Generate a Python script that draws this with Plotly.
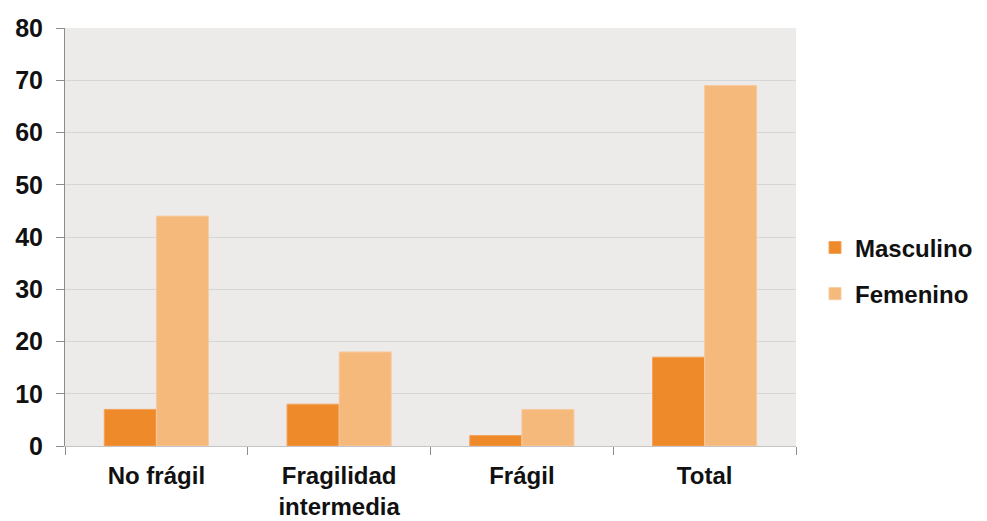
import plotly.graph_objects as go

# Frailty categories and counts by sex
categorias = ["No frágil", "Fragilidad<br>intermedia", "Frágil", "Total"]
masculino = [7, 8, 2, 17]
femenino = [44, 18, 7, 69]

ticks_y = list(range(0, 81, 10))

color_masc = "#ef8a2a"
color_fem = "#f5b97c"
fuente = "Liberation Sans, Arial, sans-serif"
texto = "#111111"

fig = go.Figure()
fig.add_trace(go.Bar(
    name="Masculino", x=categorias, y=masculino,
    marker=dict(color=color_masc, line=dict(color="#f3a25a", width=1)),
    legendgroup="m",
))
fig.add_trace(go.Bar(
    name="Femenino", x=categorias, y=femenino,
    marker=dict(color=color_fem, line=dict(color="#f8cba0", width=1)),
    legendgroup="f",
))

fig.update_layout(
    width=987, height=521,
    margin=dict(l=65, r=191, t=28, b=75, autoexpand=False),
    paper_bgcolor="white",
    plot_bgcolor="#ecebea",
    barmode="group",
    bargap=0.43,
    bargroupgap=0,
    font=dict(family=fuente, color=texto, weight="bold"),
    showlegend=True,
    legend=dict(
        x=1.026, y=0.419, xanchor="left", yanchor="middle",
        font=dict(family=fuente, size=24, color=texto, weight="bold"),
        tracegroupgap=12,
        traceorder="grouped",
        bgcolor="rgba(0,0,0,0)",
    ),
    xaxis=dict(
        type="category",
        tickson="boundaries",
        ticks="outside", ticklen=8, tickcolor="#8c8c8c", tickwidth=1,
        showline=True, linecolor="#c4c4c4", linewidth=1,
        showgrid=False,
        automargin=False,
        ticklabelstandoff=8,
        tickfont=dict(family=fuente, size=24, color=texto, weight="bold"),
    ),
    yaxis=dict(
        range=[0, 80],
        tickvals=ticks_y,
        ticks="outside", ticklen=8, tickcolor="#8c8c8c", tickwidth=1,
        showline=True, linecolor="#8c8c8c", linewidth=1,
        gridcolor="#d6d6d6", gridwidth=1,
        zeroline=False,
        automargin=False,
        ticklabelstandoff=8,
        tickfont=dict(family=fuente, size=25, color=texto, weight="bold"),
    ),
)

fig.write_html("out.html")
